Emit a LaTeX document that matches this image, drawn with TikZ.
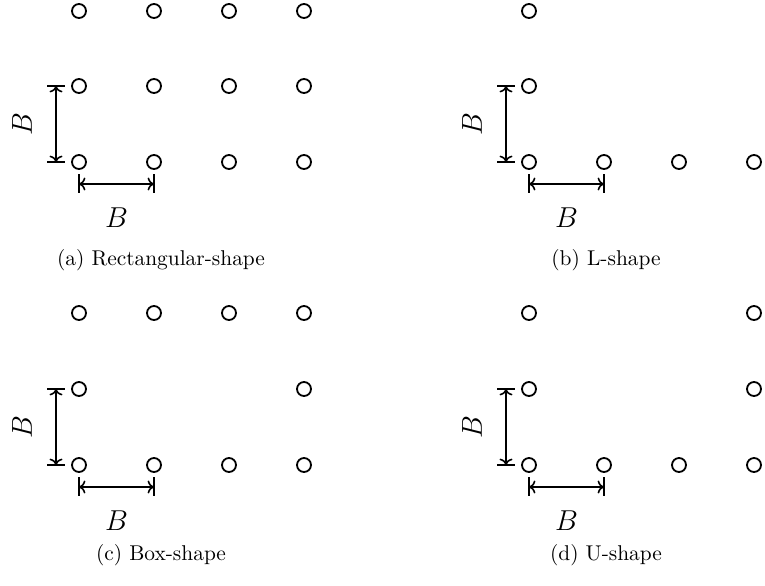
\documentclass[tikz,border=0pt]{standalone}
\usetikzlibrary{arrows.meta,calc}
\begin{document}
\begin{tikzpicture}[x=0.5pt,y=-0.5pt,
  hole/.style={circle,draw,line width=0.9pt,minimum size=7pt,inner sep=0pt},
  dimline/.style={line width=0.8pt,{To[length=3.2pt,width=6.5pt]}-{To[length=3.2pt,width=6.5pt]}},
  tick/.style={line width=1.3pt},
  dimlabel/.style={font=\fontsize{14}{16}\selectfont,inner sep=0pt},
  caption/.style={font=\fontsize{10.7}{13}\selectfont,inner sep=0pt}]
\useasboundingbox (0,0) rectangle (765,585);
% ---------- (a) rectangular ----------
\foreach \i/\x in {1/79,2/154,3/229,4/304}{
  \node[hole] (a1\i) at (\x,11) {};
  \node[hole] (a2\i) at (\x,86) {};
  \node[hole] (a3\i) at (\x,162) {};
}
% ---------- (b) L ----------
\node[hole] (b11) at (529,11) {};
\node[hole] (b21) at (529,86) {};
\foreach \i/\x in {1/529,2/604,3/679,4/754}{
  \node[hole] (b3\i) at (\x,162) {};
}
% ---------- (c) box ----------
\foreach \i/\x in {1/79,2/154,3/229,4/304}{
  \node[hole] (c1\i) at (\x,313) {};
  \node[hole] (c3\i) at (\x,465) {};
}
\node[hole] (c21) at (79,389) {};
\node[hole] (c24) at (304,389) {};
% ---------- (d) U ----------
\node[hole] (d11) at (529,313) {};
\node[hole] (d14) at (754,313) {};
\node[hole] (d21) at (529,389) {};
\node[hole] (d24) at (754,389) {};
\foreach \i/\x in {1/529,2/604,3/679,4/754}{
  \node[hole] (d3\i) at (\x,465) {};
}
% ---------- dimensions ----------
\foreach \p in {a,b,c,d}{
  \draw[tick] ([xshift=-16pt]\p21.center) -- ([xshift=-7pt]\p21.center);
  \draw[tick] ([xshift=-16pt]\p31.center) -- ([xshift=-7pt]\p31.center);
  \draw[dimline] ([xshift=-11.5pt]\p21.center) -- ([xshift=-11.5pt]\p31.center);
  \draw[tick] ([yshift=-6pt]\p31.center) -- ([yshift=-15.5pt]\p31.center);
  \draw[tick] ([yshift=-6pt]\p32.center) -- ([yshift=-15.5pt]\p32.center);
  \draw[dimline] ([yshift=-11pt]\p31.center) -- ([yshift=-11pt]\p32.center);
  \node[dimlabel] (\p lh) at ([yshift=-28pt]$(\p31.center)!0.5!(\p32.center)$) {$B$};
  \node[dimlabel,rotate=90] (\p lv) at ([xshift=-28.5pt]$(\p21.center)!0.5!(\p31.center)$) {$B$};
}
% ---------- captions ----------
\node[caption] (capa) at (161,260) {(a) Rectangular-shape};
\node[caption] (capb) at (606,260) {(b) L-shape};
\node[caption] (capc) at (161,555) {(c) Box-shape};
\node[caption] (capd) at (606,555) {(d) U-shape};
\end{tikzpicture}
\end{document}
